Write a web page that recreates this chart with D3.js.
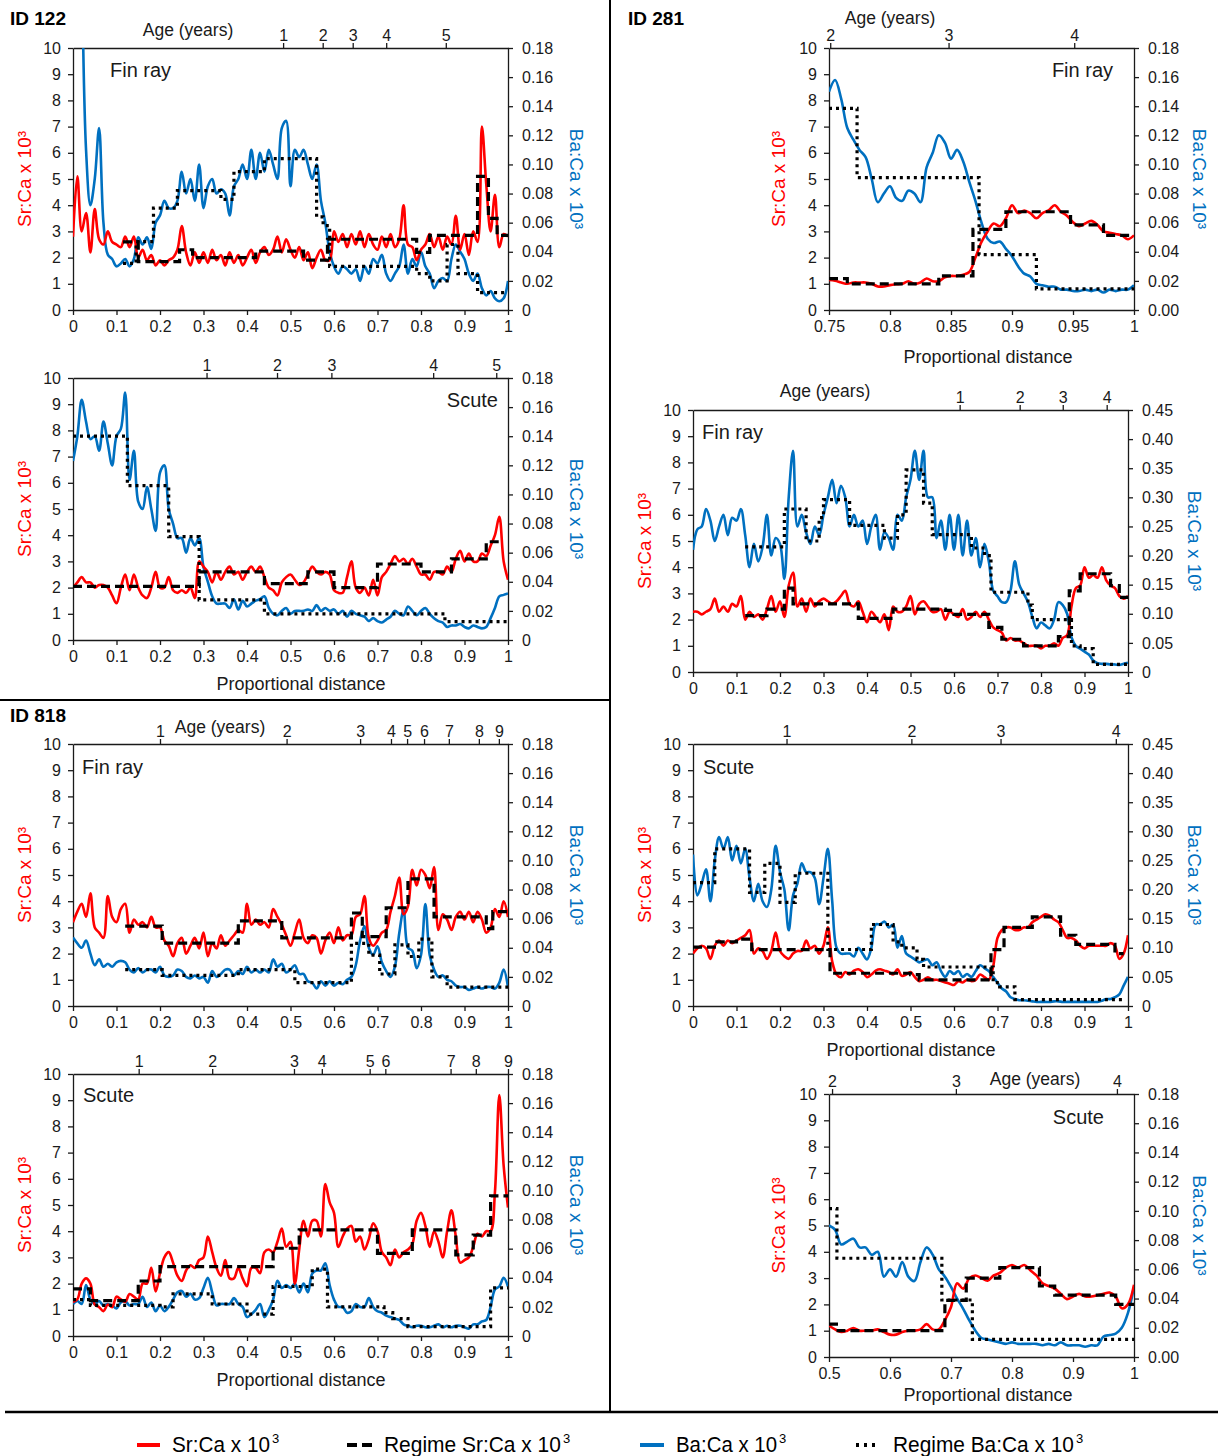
<!DOCTYPE html>
<html><head><meta charset="utf-8">
<script src="https://cdn.jsdelivr.net/npm/d3@7"></script>
<style>body{margin:0;background:#fff}</style>
</head><body>
<script>
// ---------------- DATA ----------------
// ID 122 fin ray (x: 0..1 step 0.01)
const srA = [2.8,5.1,3.0,3.7,2.2,3.85,2.7,2.5,3.0,2.6,
 2.5,2.4,2.8,2.4,2.8,2.0,2.3,1.9,2.1,1.7,
 1.9,1.7,1.9,2.0,2.3,3.2,2.2,1.7,2.2,1.8,
 2.2,1.8,2.3,1.9,2.1,1.7,2.2,1.8,2.1,1.7,
 2.0,2.3,1.8,2.2,2.4,2.1,2.3,2.8,2.2,2.7,
 2.3,2.0,2.4,1.9,2.2,1.6,2.0,2.3,1.9,1.9,
 3.0,2.6,2.9,2.4,2.9,2.5,3.0,2.4,2.9,2.5,
 2.3,2.8,2.4,2.9,2.4,2.7,4.0,2.5,2.4,1.9,
 2.3,2.5,2.9,2.4,2.8,2.3,2.8,2.5,3.6,2.3,
 2.9,2.1,3.0,2.6,7.0,4.8,3.0,4.4,2.4,2.9,
 2.8];
const baA = [null,null,0.25,0.11,0.072,0.09,0.125,0.06,0.038,0.035,
 0.03,0.032,0.035,0.03,0.035,0.05,0.045,0.05,0.042,0.06,
 0.065,0.075,0.07,0.07,0.075,0.095,0.08,0.09,0.075,0.1,
 0.07,0.085,0.09,0.08,0.083,0.08,0.065,0.085,0.09,0.1,
 0.09,0.11,0.09,0.108,0.095,0.11,0.1,0.09,0.125,0.13,
 0.085,0.11,0.105,0.11,0.1,0.09,0.1,0.075,0.06,0.04,
 0.03,0.025,0.03,0.028,0.025,0.028,0.02,0.03,0.025,0.035,
 0.032,0.038,0.025,0.02,0.025,0.03,0.045,0.025,0.035,0.03,
 0.04,0.03,0.025,0.015,0.02,0.022,0.02,0.035,0.045,0.04,
 0.035,0.025,0.02,0.025,0.015,0.01,0.013,0.008,0.006,0.008,
 0.02];
const regSrA = [[0.115,0.15,2.6],[0.15,0.245,1.85],[0.245,0.275,2.3],[0.275,0.42,2.0],[0.42,0.53,2.25],[0.53,0.585,1.9],[0.585,0.79,2.7],[0.79,0.82,2.2],[0.82,0.93,2.85],[0.93,0.955,5.1],[0.955,0.975,3.5],[0.975,1.0,2.85]];
const regBaA = [[0.115,0.145,0.032],[0.145,0.185,0.047],[0.185,0.24,0.07],[0.24,0.34,0.082],[0.34,0.37,0.076],[0.37,0.44,0.095],[0.44,0.56,0.104],[0.56,0.575,0.064],[0.575,0.59,0.058],[0.59,0.79,0.03],[0.79,0.82,0.025],[0.82,0.86,0.02],[0.86,0.885,0.045],[0.885,0.93,0.025],[0.93,1.0,0.012]];
const ageLabA = ["1","2","3","4","5"];
const agePosA = [0.483,0.574,0.643,0.72,0.857];

// ID 122 scute
const srB = [2.0,2.2,2.4,2.2,2.2,2.0,2.1,2.1,2.0,1.7,
 1.4,2.0,2.5,1.9,2.5,2.0,1.7,1.6,2.0,2.6,
 2.0,2.0,2.4,1.9,1.8,1.9,1.8,2.0,1.6,3.0,
 2.8,2.6,2.2,2.6,2.3,2.6,2.8,2.5,2.6,2.3,
 2.6,2.8,2.6,2.8,2.4,2.0,1.9,1.7,2.2,2.4,
 2.5,2.3,2.1,2.2,2.5,2.8,2.6,2.5,2.6,2.5,
 1.9,1.8,1.8,2.4,3.0,2.0,1.8,2.0,1.7,2.3,
 1.7,2.4,2.6,2.9,3.2,3.0,3.1,2.9,3.1,2.8,
 2.5,2.5,2.3,2.6,2.6,2.5,2.8,2.6,3.1,3.4,
 3.0,3.3,3.0,3.0,3.3,3.2,3.6,4.0,4.7,3.0,
 2.3];
const baB = [0.123,0.14,0.165,0.15,0.138,0.14,0.13,0.15,0.135,0.12,
 0.14,0.145,0.17,0.11,0.13,0.095,0.09,0.105,0.09,0.075,
 0.115,0.12,0.09,0.08,0.07,0.07,0.06,0.07,0.065,0.07,
 0.05,0.04,0.03,0.025,0.025,0.025,0.022,0.028,0.021,0.027,
 0.023,0.025,0.027,0.028,0.03,0.022,0.018,0.017,0.02,0.022,
 0.018,0.02,0.02,0.02,0.021,0.02,0.024,0.02,0.022,0.02,
 0.021,0.018,0.02,0.016,0.02,0.018,0.017,0.016,0.013,0.015,
 0.013,0.012,0.014,0.016,0.02,0.018,0.017,0.023,0.02,0.017,
 0.02,0.022,0.018,0.015,0.013,0.012,0.009,0.01,0.01,0.011,
 0.009,0.008,0.01,0.009,0.008,0.009,0.015,0.022,0.03,0.031,
 0.032];
const regSrB = [[0,0.29,2.05],[0.29,0.44,2.6],[0.44,0.54,2.15],[0.54,0.6,2.6],[0.6,0.7,2.0],[0.7,0.8,2.9],[0.8,0.87,2.6],[0.87,0.95,3.1],[0.95,0.98,3.75]];
const regBaB = [[0,0.125,0.14],[0.125,0.22,0.106],[0.22,0.29,0.071],[0.29,0.44,0.0275],[0.44,0.855,0.018],[0.855,1.0,0.0126]];
const ageLabB = ["1","2","3","4","5"];
const agePosB = [0.307,0.469,0.594,0.828,0.973];

// ID 818 fin ray
const srC = [3.2,3.6,3.9,3.4,4.3,3.0,2.8,2.6,4.2,3.4,
 3.2,3.7,3.9,2.8,3.3,3.1,3.2,3.0,3.4,3.0,
 3.0,2.5,2.3,1.9,2.4,2.6,2.0,2.3,2.6,2.2,
 2.8,1.9,2.4,2.2,2.7,2.3,2.5,2.7,2.9,2.8,
 3.9,3.1,3.3,3.1,3.2,3.0,3.7,3.4,3.1,2.7,
 2.3,2.8,3.3,2.6,2.4,2.7,2.6,2.0,2.5,2.8,
 2.4,3.0,2.5,2.7,2.7,3.4,3.5,4.2,2.6,2.3,
 2.5,2.8,2.9,3.6,4.2,4.9,3.5,3.8,5.2,4.6,
 5.2,5.0,4.5,5.3,2.9,3.5,3.3,2.9,3.4,3.6,
 3.3,3.6,3.2,3.6,3.3,2.8,3.0,3.7,3.4,4.0,
 3.4];
const baC = [0.047,0.043,0.04,0.045,0.036,0.028,0.032,0.027,0.029,0.027,
 0.03,0.031,0.03,0.025,0.023,0.026,0.023,0.025,0.025,0.023,
 0.027,0.021,0.02,0.021,0.025,0.024,0.02,0.019,0.021,0.019,
 0.02,0.016,0.024,0.02,0.022,0.025,0.025,0.021,0.024,0.022,
 0.027,0.023,0.025,0.023,0.025,0.023,0.032,0.027,0.029,0.023,
 0.025,0.028,0.022,0.022,0.017,0.016,0.012,0.017,0.014,0.017,
 0.014,0.016,0.015,0.018,0.02,0.028,0.045,0.055,0.04,0.035,
 0.041,0.03,0.024,0.02,0.027,0.05,0.066,0.04,0.038,0.026,
 0.035,0.07,0.035,0.025,0.02,0.021,0.018,0.017,0.014,0.013,
 0.013,0.011,0.012,0.013,0.012,0.013,0.013,0.012,0.016,0.025,
 0.013];
const regSrC = [[0.12,0.205,3.05],[0.205,0.38,2.4],[0.38,0.48,3.25],[0.48,0.64,2.6],[0.64,0.665,3.55],[0.665,0.72,2.65],[0.72,0.77,3.75],[0.77,0.83,4.85],[0.83,0.95,3.4],[0.95,0.965,2.95],[0.965,1.0,3.6]];
const regBaC = [[0.12,0.205,0.025],[0.205,0.38,0.021],[0.38,0.51,0.025],[0.51,0.64,0.016],[0.64,0.68,0.043],[0.68,0.705,0.035],[0.705,0.74,0.022],[0.74,0.77,0.042],[0.77,0.795,0.034],[0.795,0.825,0.046],[0.825,0.86,0.02],[0.86,1.0,0.013]];
const ageLabC = ["1","2","3","4","5","6","7","8","9"];
const agePosC = [0.2,0.491,0.66,0.731,0.768,0.807,0.864,0.933,0.979];

// ID 818 scute
const srD = [1.3,1.4,2.0,2.2,2.0,1.2,1.1,0.95,1.2,1.1,
 1.5,1.4,1.3,1.6,1.5,1.4,2.0,2.0,2.6,1.7,
 2.4,3.0,3.2,2.8,2.3,2.1,2.5,2.7,2.6,2.9,
 3.0,3.8,3.2,2.6,2.3,2.9,2.2,2.2,2.6,2.2,
 1.9,2.6,2.6,2.4,3.2,3.3,3.2,3.6,4.1,3.4,
 3.6,2.0,3.3,4.4,3.8,4.4,4.4,3.8,5.8,5.1,
 4.7,3.4,3.8,4.1,4.2,3.6,3.8,3.3,3.7,4.3,
 4.0,3.2,3.0,2.7,3.3,3.0,3.2,3.3,3.5,4.4,
 4.7,4.2,3.4,4.0,3.6,3.0,4.0,4.8,3.8,2.8,
 2.9,3.0,3.4,3.9,3.8,4.0,4.0,5.5,9.2,6.5,
 4.9];
const baD = [0.022,0.024,0.022,0.035,0.025,0.022,0.024,0.021,0.022,0.021,
 0.019,0.023,0.024,0.021,0.022,0.022,0.027,0.02,0.023,0.017,
 0.021,0.017,0.02,0.025,0.03,0.031,0.027,0.029,0.025,0.026,
 0.033,0.04,0.03,0.021,0.022,0.022,0.022,0.026,0.022,0.02,
 0.013,0.015,0.018,0.022,0.013,0.018,0.025,0.038,0.033,0.035,
 0.033,0.036,0.03,0.036,0.03,0.043,0.045,0.045,0.05,0.035,
 0.025,0.02,0.02,0.016,0.017,0.022,0.02,0.02,0.026,0.02,
 0.017,0.016,0.014,0.013,0.012,0.011,0.008,0.007,0.006,0.007,
 0.007,0.006,0.006,0.007,0.008,0.006,0.007,0.006,0.007,0.007,
 0.006,0.005,0.008,0.008,0.01,0.011,0.02,0.032,0.034,0.04,
 0.034];
const regSrD = [[0,0.04,1.8],[0.04,0.15,1.35],[0.15,0.2,2.1],[0.2,0.46,2.65],[0.46,0.52,3.35],[0.52,0.7,4.05],[0.7,0.78,3.15],[0.78,0.88,4.05],[0.88,0.92,3.1],[0.92,0.96,3.85],[0.96,1.0,5.35]];
const regBaD = [[0,0.04,0.025],[0.04,0.2,0.021],[0.2,0.23,0.02],[0.23,0.32,0.029],[0.32,0.4,0.022],[0.4,0.46,0.015],[0.46,0.55,0.034],[0.55,0.585,0.046],[0.585,0.715,0.02],[0.715,0.735,0.016],[0.735,0.77,0.012],[0.77,0.96,0.0065],[0.96,1.0,0.033]];
const ageLabD = ["1","2","3","4","5","6","7","8","9"];
const agePosD = [0.151,0.32,0.508,0.572,0.682,0.718,0.868,0.926,1.0];

// ID 281 fin ray, detail (x: 0.75..1 step 0.005)
const srE = [1.15,1.12,1.05,1.0,1.05,1.05,1.05,1.0,0.9,0.9,
 0.95,0.98,1.0,1.1,1.0,1.05,1.2,1.1,1.1,1.25,
 1.3,1.3,1.35,1.45,2.0,2.6,3.0,3.3,3.2,3.5,
 4.0,3.7,3.8,3.7,3.5,3.7,3.8,4.0,3.75,3.6,
 3.35,3.2,3.3,3.4,3.25,3.0,2.95,2.9,2.85,2.7,
 2.85];
const baE = [0.15,0.158,0.145,0.125,0.117,0.11,0.105,0.09,0.074,0.08,
 0.085,0.077,0.075,0.082,0.08,0.074,0.098,0.108,0.12,0.115,
 0.104,0.11,0.102,0.088,0.075,0.06,0.049,0.046,0.047,0.042,
 0.037,0.03,0.025,0.023,0.018,0.017,0.016,0.016,0.014,0.014,
 0.013,0.013,0.014,0.013,0.014,0.012,0.014,0.013,0.014,0.014,
 0.017];
const regSrE = [[0.75,0.765,1.2],[0.765,0.84,1.0],[0.84,0.868,1.3],[0.868,0.895,3.08],[0.895,0.948,3.75],[0.948,0.975,3.25],[0.975,1.0,2.85]];
const regBaE = [[0.75,0.773,0.1385],[0.773,0.873,0.091],[0.873,0.92,0.038],[0.92,1.0,0.0145]];
const ageLabE = ["2","3","4"];
const agePosE = [0.751,0.848,0.951];

// ID 281 fin ray, full
const srF = [2.3,2.3,2.2,2.3,2.4,2.8,2.3,2.5,2.3,2.6,
 2.5,2.9,2.0,2.3,2.1,2.2,2.0,2.4,2.9,2.3,
 2.7,2.1,3.3,3.8,2.5,2.8,2.3,2.8,2.5,2.7,
 2.8,2.7,2.6,2.7,2.9,3.1,2.6,2.5,2.7,2.3,
 1.9,2.3,2.1,1.9,2.2,1.6,2.5,2.3,2.3,2.5,
 2.9,2.2,2.6,2.7,2.5,2.3,2.3,2.4,2.0,2.3,
 2.2,2.1,2.4,2.0,2.1,2.3,2.1,2.3,2.0,1.7,
 1.6,1.5,1.2,1.3,1.2,1.2,1.1,1.0,1.0,1.0,
 0.9,1.0,1.0,1.1,1.0,1.3,1.4,2.5,3.2,3.3,
 4.0,3.6,3.7,3.6,4.0,3.5,3.3,3.2,2.9,2.8,
 2.9];
const baF = [0.21,0.245,0.25,0.28,0.26,0.225,0.25,0.27,0.235,0.265,
 0.26,0.28,0.235,0.18,0.22,0.19,0.215,0.27,0.2,0.23,
 0.22,0.16,0.3,0.38,0.25,0.27,0.24,0.22,0.25,0.235,
 0.27,0.3,0.33,0.29,0.32,0.3,0.25,0.27,0.25,0.26,
 0.22,0.25,0.27,0.21,0.24,0.23,0.21,0.27,0.26,0.3,
 0.33,0.38,0.33,0.38,0.3,0.3,0.23,0.26,0.21,0.27,
 0.21,0.27,0.2,0.26,0.2,0.23,0.18,0.22,0.19,0.14,
 0.13,0.12,0.12,0.14,0.19,0.15,0.135,0.12,0.095,0.075,
 0.085,0.08,0.075,0.09,0.12,0.115,0.1,0.06,0.045,0.04,
 0.035,0.03,0.02,0.015,0.014,0.014,0.013,0.013,0.012,0.014,
 0.016];
const regSrF = [[0.12,0.17,2.15],[0.17,0.21,2.4],[0.21,0.23,3.2],[0.23,0.38,2.6],[0.38,0.46,2.05],[0.46,0.58,2.4],[0.58,0.6,2.35],[0.6,0.68,2.2],[0.68,0.71,1.7],[0.71,0.76,1.25],[0.76,0.84,1.0],[0.84,0.865,1.35],[0.865,0.89,3.1],[0.89,0.96,3.75],[0.96,0.98,3.3],[0.98,1.0,2.85]];
const regBaF = [[0.12,0.21,0.215],[0.21,0.26,0.28],[0.26,0.29,0.225],[0.29,0.3,0.265],[0.3,0.36,0.296],[0.36,0.44,0.252],[0.44,0.47,0.23],[0.47,0.49,0.27],[0.49,0.53,0.347],[0.53,0.55,0.29],[0.55,0.64,0.236],[0.64,0.67,0.213],[0.67,0.685,0.2],[0.685,0.77,0.137],[0.77,0.78,0.115],[0.78,0.87,0.09],[0.87,0.89,0.045],[0.89,0.92,0.04],[0.92,1.0,0.013]];
const ageLabF = ["1","2","3","4"];
const agePosF = [0.613,0.751,0.85,0.951];

// ID 281 scute, full
const srG = [2.0,2.2,2.3,2.2,1.8,2.3,2.5,2.3,2.5,2.4,
 2.5,2.6,2.7,2.9,2.0,2.2,2.1,1.8,2.1,2.8,
 2.1,1.9,1.8,2.0,2.1,2.1,2.5,2.2,2.3,2.0,
 2.3,3.0,1.7,1.2,1.1,1.3,1.2,1.35,1.4,1.3,
 1.1,1.2,1.35,1.4,1.35,1.3,1.2,1.4,1.15,1.2,
 1.3,1.1,0.95,1.0,1.1,1.0,1.0,0.95,0.9,0.85,
 0.8,0.95,0.9,1.0,0.95,1.0,1.2,1.1,1.0,1.5,
 2.6,2.9,3.0,3.0,2.9,2.9,3.0,3.0,3.2,3.3,
 3.4,3.5,3.45,3.3,3.2,2.9,2.6,2.6,2.5,2.3,
 2.2,2.3,2.3,2.3,2.3,2.3,2.4,2.3,1.8,2.0,
 2.7];
const baG = [0.26,0.19,0.21,0.235,0.18,0.25,0.29,0.27,0.29,0.25,
 0.275,0.245,0.27,0.22,0.18,0.21,0.18,0.17,0.2,0.275,
 0.23,0.2,0.13,0.19,0.21,0.245,0.23,0.23,0.22,0.175,
 0.22,0.27,0.18,0.1,0.09,0.09,0.09,0.085,0.1,0.09,
 0.08,0.1,0.14,0.14,0.145,0.135,0.14,0.1,0.12,0.09,
 0.085,0.08,0.075,0.078,0.08,0.07,0.075,0.06,0.05,0.06,
 0.055,0.06,0.05,0.055,0.05,0.06,0.07,0.065,0.06,0.05,
 0.04,0.03,0.025,0.015,0.012,0.01,0.01,0.009,0.008,0.007,
 0.007,0.007,0.007,0.008,0.008,0.007,0.007,0.007,0.007,0.007,
 0.007,0.007,0.007,0.007,0.009,0.012,0.012,0.015,0.02,0.035,
 0.05];
const regSrG = [[0,0.055,2.25],[0.055,0.1,2.45],[0.1,0.135,2.55],[0.135,0.315,2.15],[0.315,0.5,1.25],[0.5,0.52,1.2],[0.52,0.685,1.0],[0.685,0.715,2.15],[0.715,0.78,3.0],[0.78,0.845,3.4],[0.845,0.88,2.7],[0.88,0.97,2.35],[0.97,0.99,2.0]];
const regBaG = [[0,0.05,0.212],[0.05,0.13,0.27],[0.13,0.165,0.195],[0.165,0.2,0.245],[0.2,0.235,0.178],[0.235,0.31,0.228],[0.31,0.41,0.097],[0.41,0.46,0.14],[0.46,0.48,0.11],[0.48,0.515,0.1],[0.515,0.53,0.08],[0.53,0.69,0.067],[0.69,0.705,0.04],[0.705,0.74,0.033],[0.74,0.99,0.011]];
const ageLabG = ["1","2","3","4"];
const agePosG = [0.215,0.502,0.707,0.972];

// ID 281 scute, detail (x: 0.5..1 step 0.01)
const srH = [1.2,1.05,0.95,1.0,1.1,1.0,1.0,1.0,1.05,0.95,
 0.85,0.85,0.95,1.0,1.0,1.05,1.25,1.05,1.05,1.4,
 1.9,2.8,2.6,3.0,3.1,3.0,2.9,3.1,3.2,3.4,
 3.5,3.4,3.5,3.3,3.1,2.8,2.7,2.6,2.4,2.2,
 2.3,2.4,2.3,2.3,2.35,2.4,2.45,2.3,1.85,2.0,
 2.75];
const baH = [0.09,0.087,0.077,0.079,0.081,0.075,0.075,0.07,0.072,0.055,
 0.06,0.055,0.065,0.055,0.052,0.065,0.075,0.07,0.06,0.055,
 0.048,0.04,0.033,0.025,0.018,0.013,0.012,0.011,0.01,0.009,
 0.01,0.009,0.009,0.009,0.009,0.008,0.009,0.008,0.01,0.008,
 0.008,0.008,0.007,0.008,0.008,0.014,0.015,0.016,0.02,0.03,
 0.048];
const regSrH = [[0.5,0.515,1.25],[0.515,0.69,1.0],[0.69,0.725,2.15],[0.725,0.78,3.0],[0.78,0.845,3.4],[0.845,0.87,2.7],[0.87,0.97,2.35],[0.97,1.0,2.0]];
const regBaH = [[0.5,0.513,0.1016],[0.513,0.685,0.0676],[0.685,0.735,0.039],[0.735,1.0,0.012]];
const ageLabH = ["2","3","4"];
const agePosH = [0.505,0.708,0.972];

const xTicks01 = [0,0.1,0.2,0.3,0.4,0.5,0.6,0.7,0.8,0.9,1];
const xTicksE = [0.75,0.8,0.85,0.9,0.95,1];
const xTicksH = [0.5,0.6,0.7,0.8,0.9,1];
const srTicks = [0,1,2,3,4,5,6,7,8,9,10];
const baTicks18 = [0,0.02,0.04,0.06,0.08,0.10,0.12,0.14,0.16,0.18];
const baTicks45 = [0,0.05,0.10,0.15,0.20,0.25,0.30,0.35,0.40,0.45];
const legendLabels = ["Sr:Ca x 10","Regime Sr:Ca x 10","Ba:Ca x 10","Regime Ba:Ca x 10"];

// ---------------- DRAW ----------------
const RED = "#ff0000", BLUE = "#0070c0", INK = "#1a1a1a";
const FONT = "'Liberation Sans', Arial, Helvetica, sans-serif";
const svg = d3.select("body").append("svg").attr("width",1224).attr("height",1456).style("background","#fff");

const fmtX = v => String(+v.toFixed(2));
const fmtBa0 = v => v === 0 ? "0" : v.toFixed(2);
const fmtBa2 = v => v.toFixed(2);

const panels = [
 {k:"A", box:[73,508,48,310], xDom:[0,1], start:0, step:0.01, sr:srA, ba:baA, rs:regSrA, rb:regBaA, ageL:ageLabA, ageP:agePosA, xT:xTicks01, baT:baTicks18, baMax:0.18, baF:fmtBa0,
  lt:24, rt:577, label:{t:"Fin ray",x:110,y:77,a:"start"}, age:{x:188,y:36}, xt:null},
 {k:"B", box:[73,508,378,640], xDom:[0,1], start:0, step:0.01, sr:srB, ba:baB, rs:regSrB, rb:regBaB, ageL:ageLabB, ageP:agePosB, xT:xTicks01, baT:baTicks18, baMax:0.18, baF:fmtBa0,
  lt:24, rt:577, label:{t:"Scute",x:498,y:407,a:"end"}, age:null, xt:{x:301,y:690}},
 {k:"C", box:[73,508,744,1006], xDom:[0,1], start:0, step:0.01, sr:srC, ba:baC, rs:regSrC, rb:regBaC, ageL:ageLabC, ageP:agePosC, xT:xTicks01, baT:baTicks18, baMax:0.18, baF:fmtBa0,
  lt:24, rt:577, label:{t:"Fin ray",x:82,y:774,a:"start"}, age:{x:220,y:733}, xt:null},
 {k:"D", box:[73,508,1074,1336], xDom:[0,1], start:0, step:0.01, sr:srD, ba:baD, rs:regSrD, rb:regBaD, ageL:ageLabD, ageP:agePosD, xT:xTicks01, baT:baTicks18, baMax:0.18, baF:fmtBa0,
  lt:24, rt:577, label:{t:"Scute",x:83,y:1102,a:"start"}, age:null, xt:{x:301,y:1386}},
 {k:"E", box:[829,1134,48,310], xDom:[0.75,1], start:0.75, step:0.005, sr:srE, ba:baE, rs:regSrE, rb:regBaE, ageL:ageLabE, ageP:agePosE, xT:xTicksE, baT:baTicks18, baMax:0.18, baF:fmtBa2,
  lt:778, rt:1200, label:{t:"Fin ray",x:1113,y:77,a:"end"}, age:{x:890,y:24}, xt:{x:988,y:363}},
 {k:"F", box:[693,1128,410,672], xDom:[0,1], start:0, step:0.01, sr:srF, ba:baF, rs:regSrF, rb:regBaF, ageL:ageLabF, ageP:agePosF, xT:xTicks01, baT:baTicks45, baMax:0.45, baF:fmtBa0,
  lt:644, rt:1195, label:{t:"Fin ray",x:702,y:439,a:"start"}, age:{x:825,y:397}, xt:null},
 {k:"G", box:[693,1128,744,1006], xDom:[0,1], start:0, step:0.01, sr:srG, ba:baG, rs:regSrG, rb:regBaG, ageL:ageLabG, ageP:agePosG, xT:xTicks01, baT:baTicks45, baMax:0.45, baF:fmtBa0,
  lt:644, rt:1195, label:{t:"Scute",x:703,y:774,a:"start"}, age:null, xt:{x:911,y:1056}},
 {k:"H", box:[829,1134,1094,1357], xDom:[0.5,1], start:0.5, step:0.01, sr:srH, ba:baH, rs:regSrH, rb:regBaH, ageL:ageLabH, ageP:agePosH, xT:xTicksH, baT:baTicks18, baMax:0.18, baF:fmtBa2,
  lt:778, rt:1200, label:{t:"Scute",x:1104,y:1124,a:"end"}, age:{x:1035,y:1085}, xt:{x:988,y:1401}}
];

function styleAxis(g){
  g.select(".domain").attr("stroke",INK).attr("stroke-width",1.3);
  g.selectAll(".tick line").attr("stroke",INK).attr("stroke-width",1.3);
  g.selectAll("text").attr("font-family",FONT).attr("font-size",16).attr("fill",INK);
}

function drawPanel(p){
  const [l,r,t,b] = p.box;
  const x = d3.scaleLinear().domain(p.xDom).range([l,r]);
  const yL = d3.scaleLinear().domain([0,10]).range([b,t]);
  const yR = d3.scaleLinear().domain([0,p.baMax]).range([b,t]);
  const g = svg.append("g");

  const cid = "clip"+p.k;
  g.append("clipPath").attr("id",cid).append("rect").attr("x",l).attr("y",t).attr("width",r-l).attr("height",b-t);

  g.append("g").attr("transform",`translate(${l},0)`)
    .call(d3.axisLeft(yL).tickValues(srTicks).tickSize(5).tickSizeOuter(0).tickPadding(7)).call(styleAxis);
  g.append("g").attr("transform",`translate(${r},0)`)
    .call(d3.axisRight(yR).tickValues(p.baT).tickFormat(p.baF).tickSize(5).tickSizeOuter(0).tickPadding(9)).call(styleAxis);
  g.append("g").attr("transform",`translate(0,${b})`)
    .call(d3.axisBottom(x).tickValues(p.xT).tickFormat(fmtX).tickSize(5).tickSizeOuter(0).tickPadding(6)).call(styleAxis);
  g.append("g").attr("transform",`translate(0,${t})`)
    .call(d3.axisTop(x).tickValues(p.ageP).tickFormat((d,i)=>p.ageL[i]).tickSize(5).tickSizeOuter(0).tickPadding(2)).call(styleAxis);

  const srPts = p.sr.map((v,i)=>[p.start+i*p.step, v]);
  const baPts = p.ba.map((v,i)=>[p.start+i*p.step, v]);
  const plot = g.append("g").attr("clip-path",`url(#${cid})`);
  const lineL = d3.line().defined(d=>d[1]!=null).x(d=>x(d[0])).y(d=>yL(d[1])).curve(d3.curveCatmullRom.alpha(0.5));
  const lineR = d3.line().defined(d=>d[1]!=null).x(d=>x(d[0])).y(d=>yR(d[1])).curve(d3.curveCatmullRom.alpha(0.5));
  plot.append("path").attr("d",lineR(baPts)).attr("fill","none").attr("stroke",BLUE).attr("stroke-width",2.6).attr("stroke-linejoin","round");
  plot.append("path").attr("d",lineL(srPts)).attr("fill","none").attr("stroke",RED).attr("stroke-width",2.6).attr("stroke-linejoin","round");

  const stepPts = segs => segs.flatMap(s=>[[s[0],s[2]],[s[1],s[2]]]);
  const sL = d3.line().x(d=>x(d[0])).y(d=>yL(d[1]));
  const sR = d3.line().x(d=>x(d[0])).y(d=>yR(d[1]));
  plot.append("path").attr("d",sL(stepPts(p.rs))).attr("fill","none").attr("stroke","#000").attr("stroke-width",3.2).attr("stroke-dasharray","9,5");
  plot.append("path").attr("d",sR(stepPts(p.rb))).attr("fill","none").attr("stroke","#000").attr("stroke-width",3.2).attr("stroke-dasharray","3,4");

  const cy = (t+b)/2;
  g.append("text").attr("transform",`translate(${p.lt},${cy}) rotate(-90)`).attr("text-anchor","middle").attr("dy","0.35em")
    .attr("font-family",FONT).attr("font-size",19).attr("fill",RED).text("Sr:Ca x 10³");
  g.append("text").attr("transform",`translate(${p.rt},${cy}) rotate(90)`).attr("text-anchor","middle").attr("dy","0.35em")
    .attr("font-family",FONT).attr("font-size",19).attr("fill",BLUE).text("Ba:Ca x 10³");
  g.append("text").attr("x",p.label.x).attr("y",p.label.y).attr("text-anchor",p.label.a)
    .attr("font-family",FONT).attr("font-size",20).attr("fill",INK).text(p.label.t);
  if(p.age) g.append("text").attr("x",p.age.x).attr("y",p.age.y).attr("text-anchor","middle")
    .attr("font-family",FONT).attr("font-size",17.5).attr("fill",INK).text("Age (years)");
  if(p.xt) g.append("text").attr("x",p.xt.x).attr("y",p.xt.y).attr("text-anchor","middle")
    .attr("font-family",FONT).attr("font-size",18).attr("fill",INK).text("Proportional distance");
}
panels.forEach(drawPanel);

[["ID 122",10,25],["ID 818",10,722],["ID 281",628,25]].forEach(h=>{
  svg.append("text").attr("x",h[1]).attr("y",h[2]).attr("font-family",FONT).attr("font-weight","bold").attr("font-size",19).attr("fill","#000").text(h[0]);
});
svg.append("line").attr("x1",610).attr("x2",610).attr("y1",0).attr("y2",1412).attr("stroke","#000").attr("stroke-width",2);
svg.append("line").attr("x1",0).attr("x2",610).attr("y1",700).attr("y2",700).attr("stroke","#000").attr("stroke-width",2);
svg.append("line").attr("x1",5).attr("x2",1218).attr("y1",1412).attr("y2",1412).attr("stroke","#000").attr("stroke-width",2.5);

// legend: condensed text via horizontal scaling, superscript separate
const leg = [
 {x1:137,x2:160,c:RED,d:null,tx:172,w:98},
 {x1:347,x2:372,c:"#000",d:"10,5",tx:384,w:177},
 {x1:640,x2:664,c:BLUE,d:null,tx:676,w:101},
 {x1:856,x2:876,c:"#000",d:"3,5",tx:893,w:181}
];
leg.forEach((o,i)=>{
  svg.append("line").attr("x1",o.x1).attr("x2",o.x2).attr("y1",1445).attr("y2",1445).attr("stroke",o.c).attr("stroke-width",4).attr("stroke-dasharray",o.d);
  const gg = svg.append("g");
  const t = gg.append("text").attr("x",0).attr("y",0).attr("font-family",FONT).attr("font-size",22).attr("fill","#000").text(legendLabels[i]);
  const nat = t.node().getComputedTextLength();
  gg.attr("transform",`translate(${o.tx},1452) scale(${o.w/nat},1)`);
  svg.append("text").attr("x",o.tx+o.w+2).attr("y",1443).attr("font-family",FONT).attr("font-size",13).attr("fill","#000").text("3");
});
</script>
</body></html>
